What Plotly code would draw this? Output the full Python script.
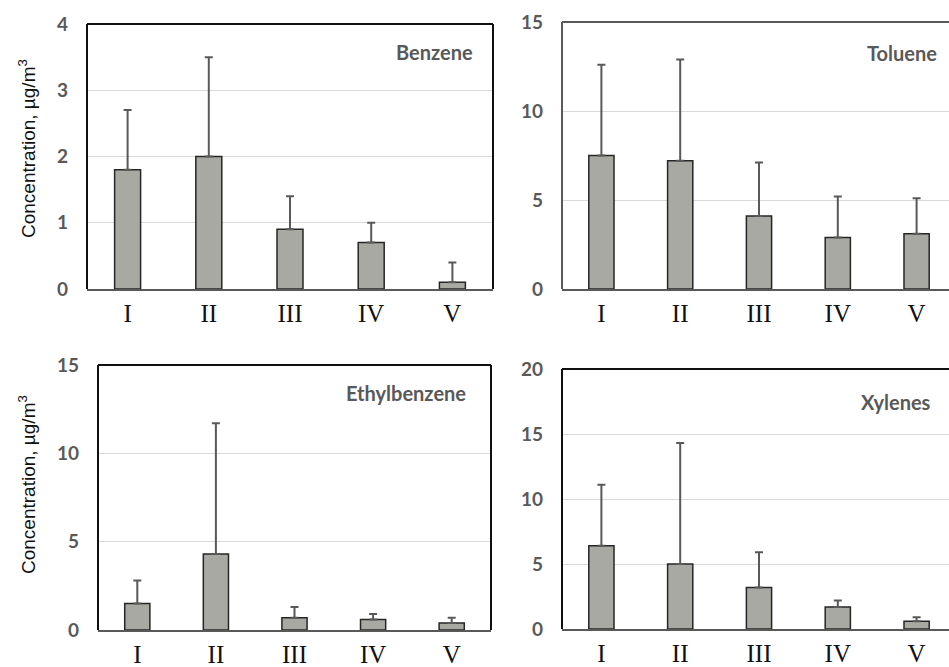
import plotly.graph_objects as go

categories = ["I", "II", "III", "IV", "V"]

benzene = [1.8, 2.0, 0.9, 0.7, 0.1]
benzene_err = [0.9, 1.5, 0.5, 0.3, 0.3]

toluene = [7.5, 7.2, 4.1, 2.9, 3.1]
toluene_err = [5.1, 5.7, 3.0, 2.3, 2.0]

ethylbenzene = [1.5, 4.3, 0.7, 0.6, 0.4]
ethylbenzene_err = [1.3, 7.4, 0.6, 0.3, 0.3]

xylenes = [6.4, 5.0, 3.2, 1.7, 0.6]
xylenes_err = [4.7, 9.3, 2.7, 0.5, 0.3]

panel_names = ["Benzene", "Toluene", "Ethylbenzene", "Xylenes"]
y_ranges = [[0, 4], [0, 15], [0, 15], [0, 20]]
y_dtick = [1, 5, 5, 5]

W, H = 949, 667


def px_x(v):
    return min(1.0, v / W)


def px_y(v):
    return 1 - v / H


# pixel boxes (left, right, top, bottom); right panels run past the edge
boxes = [
    (87, 493, 24, 289),
    (562, 956, 22, 289),
    (98, 491, 365, 630),
    (562, 956, 369, 629),
]
frame_colors = ["#111111", "#595959", "#111111", "#111111"]

series = [
    (benzene, benzene_err),
    (toluene, toluene_err),
    (ethylbenzene, ethylbenzene_err),
    (xylenes, xylenes_err),
]

fig = go.Figure()
layout = dict(
    width=W, height=H,
    margin=dict(l=0, r=0, t=0, b=0, autoexpand=False),
    paper_bgcolor="white", plot_bgcolor="white",
    showlegend=False, hovermode=False,
    shapes=[], annotations=[],
)

for i, ((vals, errs), box) in enumerate(zip(series, boxes)):
    n = "" if i == 0 else str(i + 1)
    l, r, t, b = box
    vis_r = min(r, W)
    xmax = -0.5 + 5.0 * (vis_r - l) / (r - l)
    fig.add_trace(go.Bar(
        x=categories, y=vals,
        xaxis="x" + n, yaxis="y" + n,
        width=0.32,
        marker=dict(color="#a9a9a4", line=dict(color="#262626", width=1.5)),
        error_y=dict(type="data", symmetric=False, array=errs,
                     arrayminus=[0] * len(errs),
                     color="#595959", thickness=2, width=4),
    ))
    layout["xaxis" + n] = dict(
        domain=[px_x(l), px_x(vis_r)], anchor="y" + n,
        range=[-0.5, xmax], type="category", automargin=False,
        showline=True, linecolor="#595959", linewidth=2,
        showgrid=False, ticks="",
        tickfont=dict(family="Liberation Serif", size=25, color="#111111"),
        ticklabelstandoff=1,
    )
    layout["yaxis" + n] = dict(
        domain=[px_y(b), px_y(t)], anchor="x" + n,
        range=y_ranges[i], dtick=y_dtick[i], tick0=0, automargin=False,
        showgrid=True, gridcolor="#d9d9d9", gridwidth=1,
        zeroline=False, showline=False, ticks="",
        tickfont=dict(family="Lato", size=19, color="#595959", weight="bold"),
        ticklabelstandoff=18,
    )
    fc = frame_colors[i]
    layout["shapes"].append(dict(type="line", xref="paper", yref="paper",
                                 x0=px_x(l), x1=px_x(l), y0=px_y(b), y1=px_y(t),
                                 line=dict(color=fc, width=2)))
    layout["shapes"].append(dict(type="line", xref="paper", yref="paper",
                                 x0=px_x(l), x1=px_x(vis_r), y0=px_y(t), y1=px_y(t),
                                 line=dict(color=fc, width=2)))
    if r < W:
        layout["shapes"].append(dict(type="line", xref="paper", yref="paper",
                                     x0=px_x(r), x1=px_x(r), y0=px_y(b), y1=px_y(t),
                                     line=dict(color=fc, width=2)))

# panel labels
label_pos = [(475, 52), (939, 53), (468, 393), (933, 402)]
for name, (lx, ly) in zip(panel_names, label_pos):
    layout["annotations"].append(dict(
        text=name, xref="paper", yref="paper",
        x=px_x(lx), y=px_y(ly), xanchor="right", yanchor="middle",
        showarrow=False,
        font=dict(family="Lato", size=20, color="#595959", weight="bold"),
    ))

# y axis titles
for cy in [149, 485]:
    layout["annotations"].append(dict(
        text="Concentration, µg/m<sup>3</sup>", xref="paper", yref="paper",
        x=px_x(27), y=px_y(cy), xanchor="center", yanchor="middle",
        textangle=-90, showarrow=False,
        font=dict(family="Liberation Sans", size=19, color="#111111"),
    ))

fig.update_layout(**layout)
fig.write_html(
    "out.html",
    config={"displayModeBar": False},
    post_script="document.body.style.margin='0';document.body.style.overflow='hidden';",
)
